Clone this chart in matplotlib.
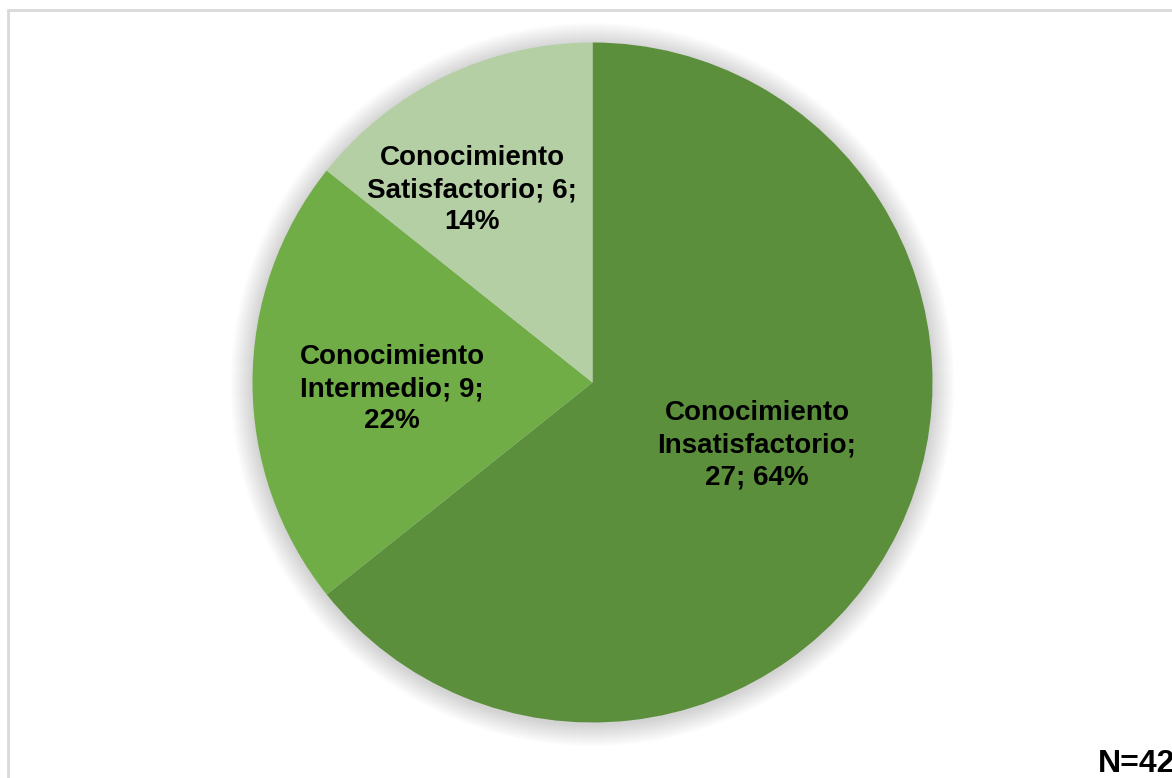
import matplotlib.pyplot as plt
from matplotlib.patches import Circle, Rectangle

# datos de la encuesta
categorias = ["Conocimiento\nInsatisfactorio;", "Conocimiento\nIntermedio; 9;", "Conocimiento\nSatisfactorio; 6;"]
valores = [27, 9, 6]
porcentajes = ["27; 64%", "22%", "14%"]
colores = ["#5B8F3B", "#70AD47", "#B5CFA5"]
total = "N=42"

plt.rcParams['font.family'] = ['Liberation Sans', 'DejaVu Sans']

fig = plt.figure(figsize=(11.72, 7.78), dpi=100)
ax = fig.add_axes([0, 0, 1, 1])

# marco gris del grafico
ax.add_patch(Rectangle((8, -20), 1200, 788, fill=False, edgecolor="#D9D9D9", linewidth=2))

cx, cy, r = 592.5, 395.5, 340

# sombra difusa alrededor del pastel
for k in range(22, 0, -1):
    ax.add_patch(Circle((cx, cy - 2), r + k, color="#000000", alpha=0.009, linewidth=0))

ax.pie(valores, colors=colores, startangle=90, counterclock=False,
       center=(cx, cy), radius=r, frame=True,
       wedgeprops=dict(linewidth=0))
ax.set_xlim(0, 1172)
ax.set_ylim(0, 778)
ax.set_aspect('equal')
ax.axis('off')

textos = [categorias[0] + "\n" + porcentajes[0],
          categorias[1] + "\n" + porcentajes[1],
          categorias[2] + "\n" + porcentajes[2]]
posiciones = [(757, 778 - 445), (392, 778 - 389), (472, 778 - 190)]
for t, (x, y) in zip(textos, posiciones):
    ax.text(x, y, t, ha='center', va='center', fontsize=20, fontweight='bold',
            linespacing=1.3, color="#000000")

ax.text(1098, 778 - 772, total, ha='left', va='baseline', fontsize=23, fontweight='bold')

fig.savefig("out.png", dpi=100)
